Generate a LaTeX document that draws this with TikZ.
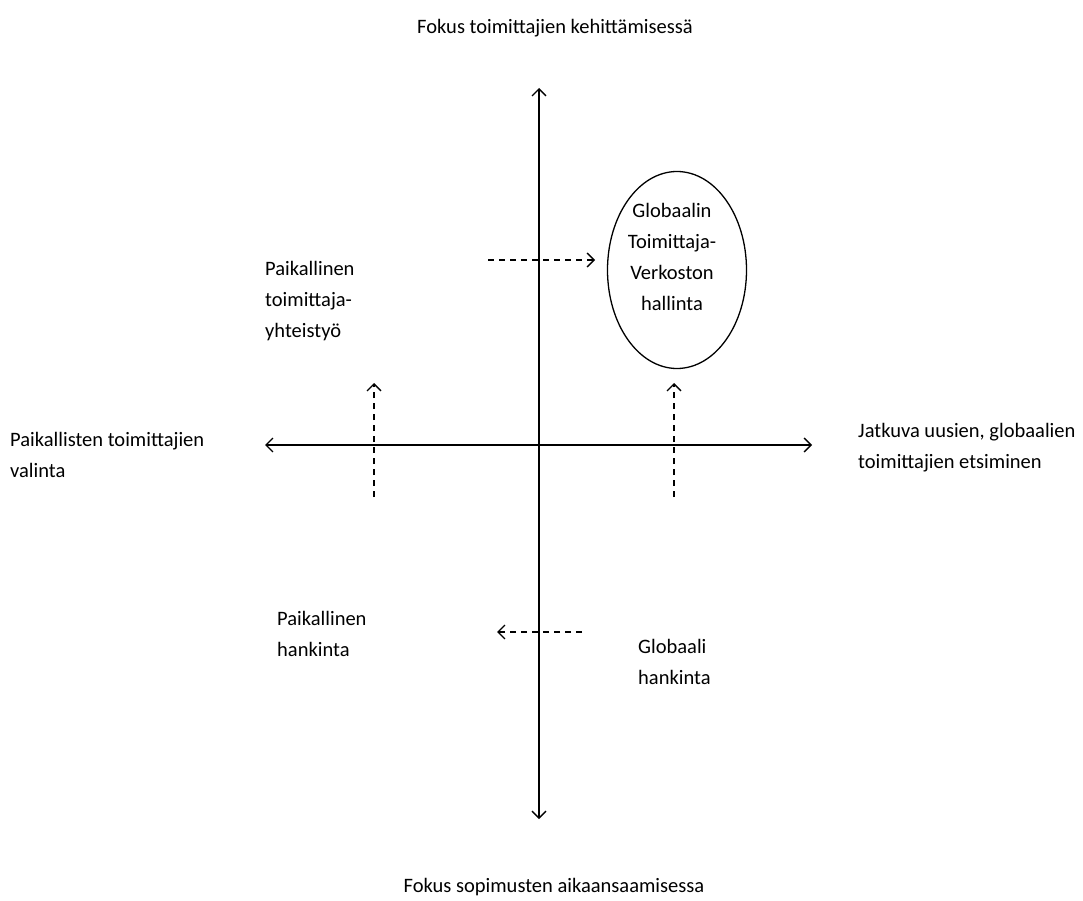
\documentclass[tikz,border=0pt]{standalone}
\usepackage{fontspec}
\setmainfont{Carlito}
\usetikzlibrary{arrows.meta,shapes.geometric}
\begin{document}
\begin{tikzpicture}[x=1pt,y=-1pt,
  lbl/.style={font=\fontsize{20.5}{31}\selectfont, align=left, inner sep=0pt},
  axisline/.style={line width=1.3pt, {Straight Barb[length=7pt,width=14pt,line width=1.3pt]}-{Straight Barb[length=7pt,width=14pt,line width=1.3pt]}},
  moveline/.style={line width=1.3pt, dash pattern=on 6pt off 5pt, -{Straight Barb[length=7pt,width=14pt,line width=1.3pt]}}]
  \useasboundingbox (0,0) rectangle (1083,901);
  % axes
  \coordinate (top) at (539,88);
  \coordinate (bottom) at (539,819);
  \coordinate (left) at (265,445);
  \coordinate (right) at (812,445);
  \draw[axisline] (bottom) -- (top);
  \draw[axisline] (left) -- (right);
  % axis labels
  \node[lbl, anchor=center] (ltop) at (555,28) {Fokus toimittajien kehittämisessä};
  \node[lbl, anchor=center] (lbottom) at (554,887) {Fokus sopimusten aikaansaamisessa};
  \node[lbl, anchor=west] (lleft) at (10,455) {Paikallisten toimittajien\\valinta};
  \node[lbl, anchor=west] (lright) at (858,448) {Jatkuva uusien, globaalien\\toimittajien etsiminen};
  % quadrant labels
  \node[lbl, anchor=west] (coop) at (265,301) {Paikallinen\\toimittaja-\\yhteistyö};
  \node[lbl, anchor=west] (localbuy) at (277,634) {Paikallinen\\hankinta};
  \node[lbl, anchor=west] (globalbuy) at (638,662) {Globaali\\hankinta};
  \node[draw, line width=1.3pt, ellipse, minimum width=139pt, minimum height=197pt, inner sep=0pt] (net) at (677,270) {};
  \node[lbl, align=center] (nettext) at (672,257) {Globaalin\\Toimittaja-\\Verkoston\\hallinta};
  % moves between quadrants
  \coordinate (s1a) at (488,260); \coordinate (s1b) at (595,260);
  \coordinate (s2a) at (374,497); \coordinate (s2b) at (374,383);
  \coordinate (s3a) at (674,497); \coordinate (s3b) at (674,383);
  \coordinate (s4a) at (582,632); \coordinate (s4b) at (497,632);
  \draw[moveline] (s1a) -- (s1b);
  \draw[moveline] (s2a) -- (s2b);
  \draw[moveline] (s3a) -- (s3b);
  \draw[moveline] (s4a) -- (s4b);
\end{tikzpicture}
\end{document}
